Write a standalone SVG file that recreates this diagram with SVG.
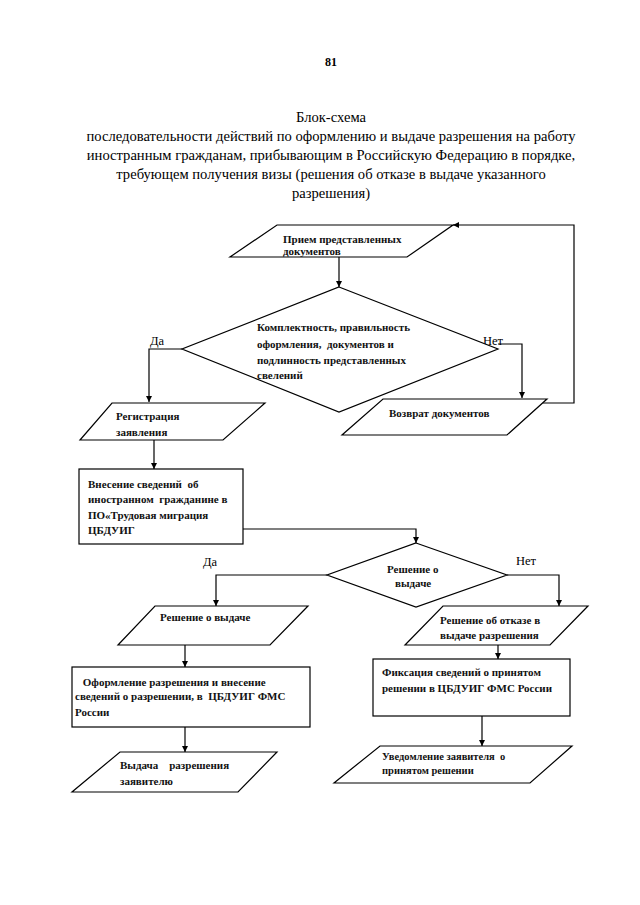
<svg xmlns="http://www.w3.org/2000/svg" width="640" height="905" viewBox="0 0 640 905">
<style>
.bg{fill:#ffffff}
.shape{fill:#ffffff;stroke:#000000;stroke-width:1.2}
.line{fill:none;stroke:#000000;stroke-width:1.2}
.title{font-family:"Liberation Serif","Times New Roman",serif;font-size:14.6px;fill:#000000;text-anchor:middle}
.num{font-family:"Liberation Serif","Times New Roman",serif;font-size:12px;font-weight:bold;fill:#000000;text-anchor:middle}
.t{font-family:"Liberation Serif","Times New Roman",serif;font-size:11px;font-weight:bold;fill:#111111;white-space:pre}
.lbl{font-family:"Liberation Serif","Times New Roman",serif;font-size:12.5px;fill:#000000}
</style>
<defs>
<marker id="arr" viewBox="0 0 10 10" refX="10" refY="5" markerWidth="6" markerHeight="6" orient="auto" markerUnits="userSpaceOnUse">
<path d="M0,0 L10,5 L0,10 z" fill="#000000"/>
</marker>
</defs>
<rect class="bg" x="0" y="0" width="640" height="905"/>
<g id="header">
<text class="num" x="331" y="66">81</text>
<text class="title" x="331" y="122">Блок-схема</text>
<text class="title" x="331" y="141">последовательности действий по оформлению и выдаче разрешения на работу</text>
<text class="title" x="331" y="160">иностранным гражданам, прибывающим в Российскую Федерацию в порядке,</text>
<text class="title" x="331" y="179">требующем получения визы (решения об отказе в выдаче указанного</text>
<text class="title" x="331" y="198">разрешения)</text>
</g>
<g id="connectors">
<line class="line" x1="339" y1="257" x2="339" y2="287" marker-end="url(#arr)"/>
<polyline class="line" points="182,349 149,349 149,402" marker-end="url(#arr)"/>
<polyline class="line" points="498,344 522,344 522,398" marker-end="url(#arr)"/>
<polyline class="line" points="543,403 574,403 574,225 453,225" marker-end="url(#arr)"/>
<line class="line" x1="154" y1="440" x2="154" y2="469" marker-end="url(#arr)"/>
<polyline class="line" points="243,529 416,529 416,543" marker-end="url(#arr)"/>
<polyline class="line" points="327,575 216,575 216,606" marker-end="url(#arr)"/>
<polyline class="line" points="507,575 559,575 559,606" marker-end="url(#arr)"/>
<line class="line" x1="185" y1="645" x2="185" y2="667" marker-end="url(#arr)"/>
<line class="line" x1="185" y1="727" x2="185" y2="752" marker-end="url(#arr)"/>
<line class="line" x1="498" y1="645" x2="498" y2="659" marker-end="url(#arr)"/>
<line class="line" x1="482" y1="716" x2="482" y2="746" marker-end="url(#arr)"/>
<text class="lbl" x="150" y="345">Да</text>
<text class="lbl" x="483" y="345">Нет</text>
<text class="lbl" x="203" y="566">Да</text>
<text class="lbl" x="516" y="565">Нет</text>
</g>
<g id="n1">
<polygon class="shape" points="277,225 453,225 407,257 230,257"/>
<text class="t" x="283" y="243">Прием представленных</text>
<text class="t" x="283" y="255">документов</text>
</g>
<g id="n2">
<polygon class="shape" points="339,287 498,349 339,412 182,349"/>
<text class="t" x="257" y="331">Комплектность, правильность</text>
<text class="t" x="257" y="348">оформления,  документов и</text>
<text class="t" x="257" y="364">подлинность представленных</text>
<text class="t" x="257" y="379">свелений</text>
</g>
<g id="n3">
<polygon class="shape" points="112,403 265,403 223,440 80,440"/>
<text class="t" x="116" y="420">Регистрация</text>
<text class="t" x="116" y="436">заявления</text>
</g>
<g id="n4">
<polygon class="shape" points="383,399 547,399 507,435 342,435"/>
<text class="t" x="389" y="417">Возврат документов</text>
</g>
<g id="n5">
<rect class="shape" x="79" y="469" width="164" height="75"/>
<text class="t" x="88" y="488">Внесение сведений  об</text>
<text class="t" x="88" y="503">иностранном  гражданине в</text>
<text class="t" x="88" y="519">ПО«Трудовая миграция</text>
<text class="t" x="88" y="534">ЦБДУИГ</text>
</g>
<g id="n6">
<polygon class="shape" points="416,543 507,575 416,607 327,575"/>
<text class="t" x="387" y="573">Решение о</text>
<text class="t" x="395" y="587">выдаче</text>
</g>
<g id="n7">
<polygon class="shape" points="155,606 308,606 270,645 118,645"/>
<text class="t" x="160" y="621">Решение о выдаче</text>
</g>
<g id="n8">
<polygon class="shape" points="443,606 588,606 550,645 405,645"/>
<text class="t" x="440" y="624">Решение об отказе в</text>
<text class="t" x="440" y="639">выдаче разрешения</text>
</g>
<g id="n9">
<rect class="shape" x="72" y="667" width="238" height="60"/>
<text class="t" x="80" y="686"> Оформление разрешения и внесение</text>
<text class="t" x="75" y="700">сведений о разрешении, в  ЦБДУИГ ФМС</text>
<text class="t" x="75" y="716">России</text>
</g>
<g id="n10">
<rect class="shape" x="373" y="659" width="197" height="57"/>
<text class="t" x="382" y="676">Фиксация сведений о принятом</text>
<text class="t" x="382" y="692">решении в ЦБДУИГ ФМС России</text>
</g>
<g id="n11">
<polygon class="shape" points="120,752 277,752 238,792 72,792"/>
<text class="t" x="120" y="769">Выдача    разрешения</text>
<text class="t" x="120" y="785">заявителю</text>
</g>
<g id="n12">
<polygon class="shape" points="380,746 572,746 530,783 334,783"/>
<text class="t" x="382" y="760" style="font-size:10.5px">Уведомление заявителя  о</text>
<text class="t" x="382" y="774" style="font-size:10.5px">принятом решении</text>
</g>
</svg>
